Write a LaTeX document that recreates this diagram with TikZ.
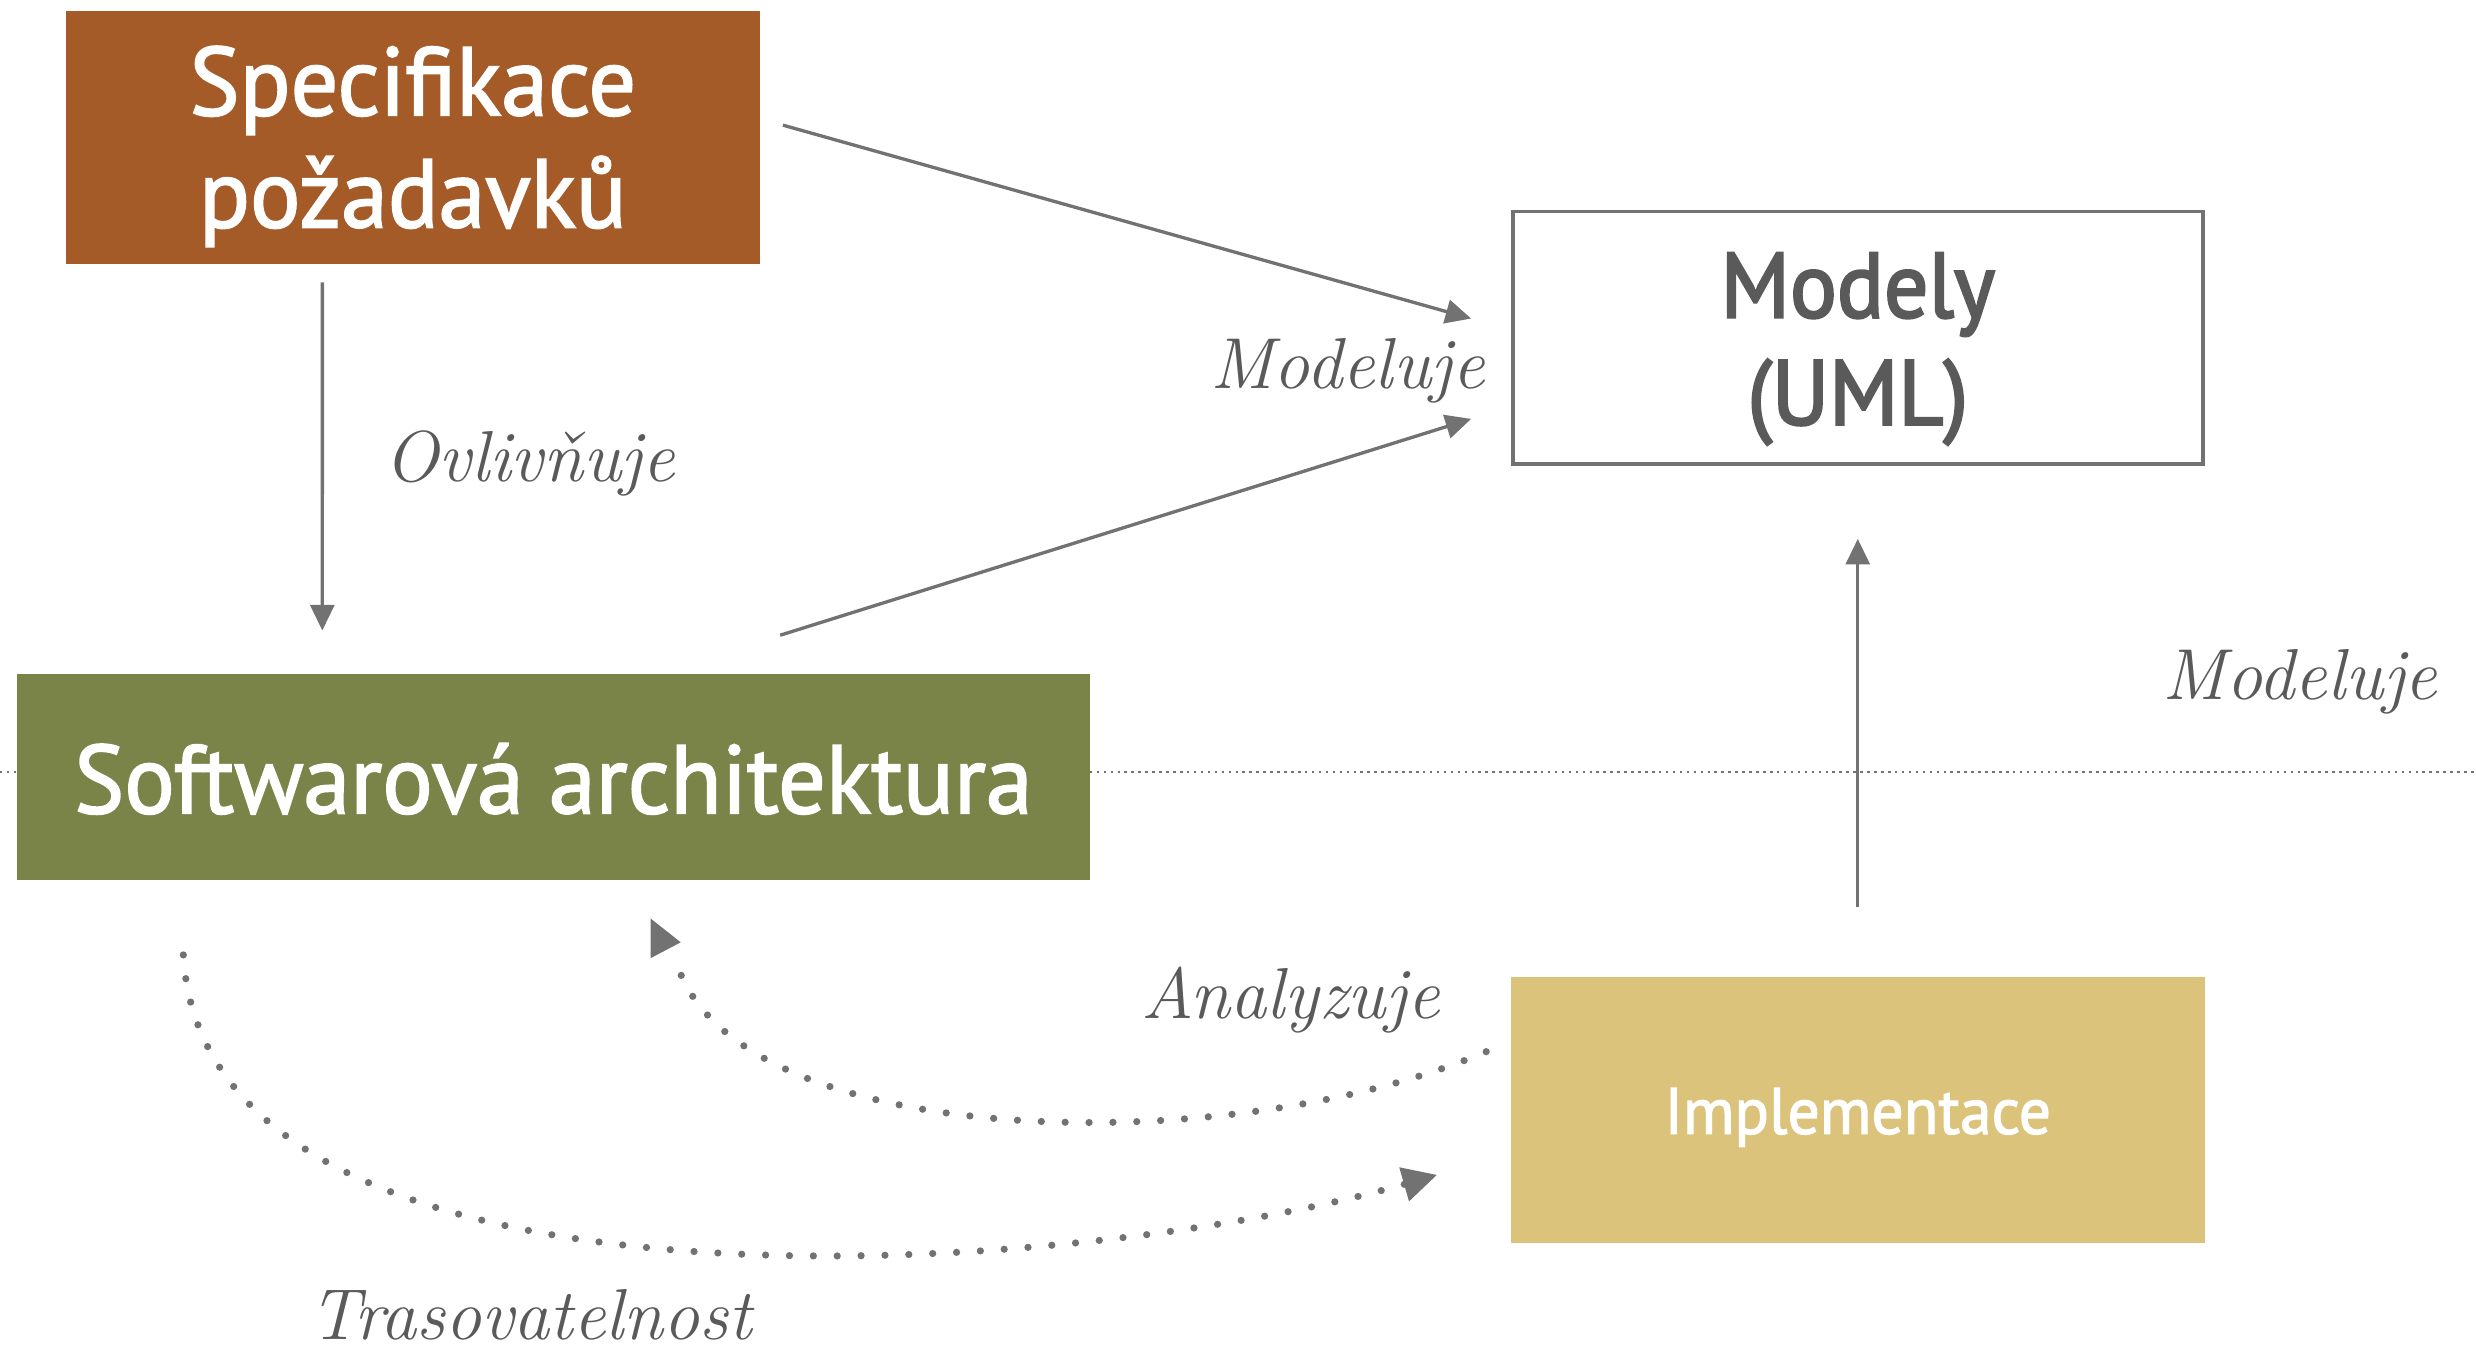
\documentclass[tikz,border=0pt]{standalone}
\usepackage{fontspec}
\usetikzlibrary{arrows.meta,calc}
\newfontfamily\boxfont{PT Sans}[FakeStretch=0.97,FakeBold=1.8]
\newfontfamily\modelfont{PT Sans}[FakeStretch=0.95,FakeBold=2.6]
\definecolor{brownbox}{HTML}{A55B28}
\definecolor{greenbox}{HTML}{7A8449}
\definecolor{sandbox}{HTML}{DCC37C}
\definecolor{linegray}{HTML}{727272}
\definecolor{textgray}{HTML}{5A5A5A}
\begin{document}
\begin{tikzpicture}[x=0.01cm,y=-0.01cm,
  box/.style={inner sep=0pt},
  boxtext/.style={anchor=base, inner sep=0pt, text=white, font=\boxfont\fontsize{17.5}{20}\selectfont},
  umltext/.style={anchor=base, inner sep=0pt, text=textgray, font=\modelfont\fontsize{16.6}{19}\selectfont},
  arr/.style={draw=linegray, line width=0.6pt, -{Triangle[length=4.6pt,width=4.3pt]}},
  dotarc/.style={draw=linegray, line width=1.3pt, line cap=round, dash pattern=on 0pt off 4.3pt},
  lbl/.style={anchor=base, text=textgray, inner sep=0pt, font=\itshape\fontsize{13}{15}\selectfont},
  sepline/.style={draw=linegray, line width=0.45pt, dash pattern=on 0.45pt off 0.8pt}]
\useasboundingbox (0,0) rectangle (1568,854);
\fill[white] (0,0) rectangle (1568,854);

% separator between design and code level
\draw[sepline] (0,489) -- (1568,489);

% boxes
\node[box, fill=brownbox, minimum width=4.39cm, minimum height=1.60cm] (spec) at (261.5,87) {};
\node[box, draw=linegray, line width=0.7pt, fill=white, minimum width=4.37cm, minimum height=1.60cm] (uml) at (1176.5,214) {};
\node[box, fill=greenbox, minimum width=6.79cm, minimum height=1.30cm] (arch) at (350.5,492) {};
\node[box, fill=sandbox, minimum width=4.39cm, minimum height=1.68cm] (impl) at (1176.5,703) {};

% box captions, placed on their baselines
\node[boxtext] (spec1) at ($(spec.center)+(0,-14)$) {Specifikace};
\node[boxtext] (spec2) at ($(spec.center)+(0,57)$) {požadavků};
\node[umltext] (uml1) at ($(uml.center)+(0,-13)$) {Modely};
\node[umltext] (uml2) at ($(uml.center)+(0,55)$) {(UML)};
\node[boxtext] (arch1) at ($(arch.center)+(0,23)$) {Softwarová architektura};
\node[boxtext, font=\boxfont\fontsize{11.8}{14}\selectfont] (impl1) at ($(impl.center)+(0,15)$) {Implementace};

% solid connectors
\draw[arr] ($(spec.south west)+(163,11)$) -- ($(arch.north west)+(194,-27)$);
\draw[arr] ($(spec.north east)+(14,73)$) -- ($(uml.north west)+(-25,69)$);
\draw[arr] ($(arch.north west)+(484,-24)$) -- ($(uml.south west)+(-25,-30)$);
\draw[arr] ($(impl.north)+(0,-44)$) -- ($(uml.south)+(0,46)$);

% dotted connectors
\coordinate (aend) at ($(arch.south west)+(419,54)$);
\draw[dotarc] ($(impl.west)+(-15,-37)$) .. controls (780,735) and (470,730) .. (aend);
\fill[linegray] ($(aend)+(-17,-30)$) -- ($(aend)+(2,-15)$) -- ($(aend)+(-17,-5)$) -- cycle;
\draw[dotarc, -{Triangle[length=6.2pt,width=6pt]}] ($(arch.south west)+(106,47)$) .. controls (130,850) and (680,810) .. ($(impl.west)+(-46,41)$);

% labels
\node[lbl] (l1) at (335.5,305) {Ovlivňuje};
\node[lbl] (l2) at (853.5,246) {Modeluje};
\node[lbl] (l3) at (1456.5,443) {Modeluje};
\node[lbl] (l4) at (817.5,645) {Analyzuje};
\node[lbl] (l5) at (336,848) {Trasovatelnost};
\end{tikzpicture}
\end{document}
